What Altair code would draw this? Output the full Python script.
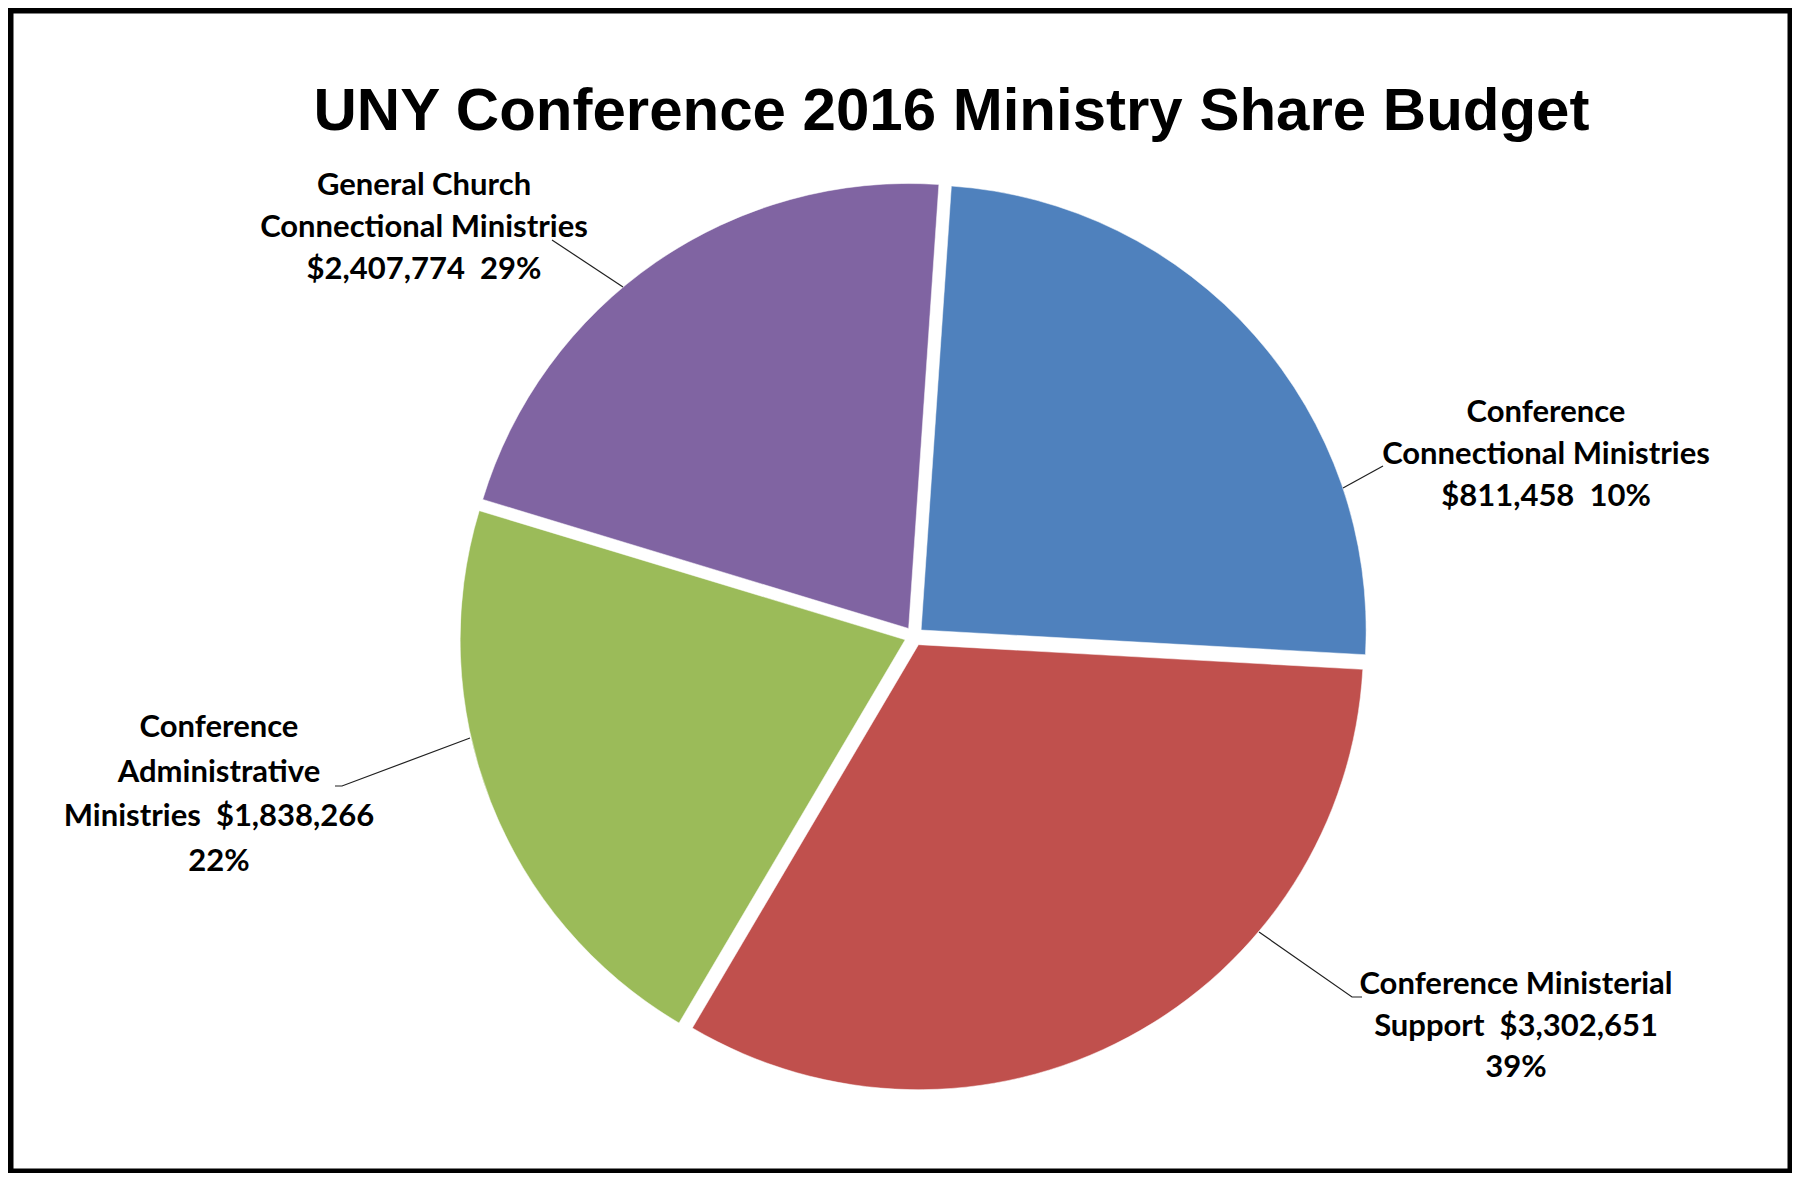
import math
import altair as alt
import pandas as pd

# ---------------- data ----------------
categories = [
    "Conference Connectional Ministries",
    "Conference Ministerial Support",
    "Conference Administrative Ministries",
    "General Church Connectional Ministries",
]
amounts = [811458, 3302651, 1838266, 2407774]
percent_labels = ["10%", "39%", "22%", "29%"]
# share of the circle each slice occupies as drawn in the picture (%)
drawn_share = [24.8, 32.6, 21.2, 21.4]
label_templates = [
    ["Conference", "Connectional Ministries", "{amt}\u00a0 {pct}"],
    ["Conference Ministerial", "Support\u00a0 {amt}", "{pct}"],
    ["Conference", "Administrative", "Ministries\u00a0 {amt}", "{pct}"],
    ["General Church", "Connectional Ministries", "{amt}\u00a0 {pct}"],
]
title_text = "UNY Conference 2016 Ministry Share Budget"

# ---------------- style / layout ----------------
colors = ["#4F81BD", "#C0504D", "#9BBB59", "#8064A2"]
W, H = 1774, 1155
CX, CY = 901.0, 623.3
R = 445
EXPLODE = 9.5
START = math.radians(3.9)
TOTAL = sum(drawn_share)
# centre of the first line of each label, and the line spacing of each label
label_anchor = [(1533, 400), (1503, 972), (206, 715), (411, 173)]
label_spacing = [42, 41.5, 44.5, 42]
leader_pts = [
    [(1330, 475), (1370, 453)],
    [(1246, 919), (1339, 984), (1349, 984)],
    [(457, 725), (329, 773), (322, 773)],
    [(610, 274), (539, 227)],
]
LABEL_FONT = "Lato"
LABEL_SIZE = 31

# ---------------- tables ----------------
pie_df = pd.DataFrame({"idx": range(len(categories)), "category": categories, "share": drawn_share})

lab_rows = []
for k, (tmpl, amt, pct) in enumerate(zip(label_templates, amounts, percent_labels)):
    ax, ay = label_anchor[k]
    for i, s in enumerate(tmpl):
        lab_rows.append({
            "category": categories[k],
            "text": s.format(amt=f"${amt:,}", pct=pct),
            "lx": ax,
            "ly": ay + i * label_spacing[k],
        })
lab_df = pd.DataFrame(lab_rows)

rows = []
for g, pts in enumerate(leader_pts):
    for s, (x, y) in enumerate(pts):
        rows.append({"group": g, "seq": s, "x": x, "y": y})
lead_df = pd.DataFrame(rows)

# ---------------- layers ----------------
pie = (
    alt.Chart(pie_df)
    .transform_window(cum="sum(share)", sort=[alt.SortField("idx", order="ascending")], frame=[None, 0])
    .transform_calculate(c0="datum.cum - datum.share")
    .transform_calculate(mid=f"{START} + 2*PI*(datum.c0 + datum.share/2)/{TOTAL}")
    .transform_calculate(
        px=f"{CX} + {EXPLODE}*sin(datum.mid)",
        py=f"{CY} - {EXPLODE}*cos(datum.mid)",
    )
    .mark_arc(radius=R, stroke="white", strokeWidth=0.5)
    .encode(
        x=alt.X("px:Q", scale=None),
        y=alt.Y("py:Q", scale=None),
        theta=alt.Theta(
            "c0:Q",
            stack=False,
            scale=alt.Scale(domain=[0, TOTAL], range=[START, START + 2 * math.pi], zero=False, nice=False),
        ),
        theta2=alt.Theta2("cum:Q"),
        color=alt.Color("category:N", scale=alt.Scale(domain=categories, range=colors), legend=None),
    )
)

leaders = (
    alt.Chart(lead_df)
    .mark_line(color="#202020", strokeWidth=1.2)
    .encode(
        x=alt.X("x:Q", scale=None),
        y=alt.Y("y:Q", scale=None),
        detail="group:N",
        order="seq:Q",
    )
)

labels = (
    alt.Chart(lab_df)
    .mark_text(
        font=LABEL_FONT,
        fontWeight="bold",
        fontSize=LABEL_SIZE,
        align="center",
        baseline="middle",
        color="black",
    )
    .encode(x=alt.X("lx:Q", scale=None), y=alt.Y("ly:Q", scale=None), text="text:N")
)

title = (
    alt.Chart(pd.DataFrame({"t": [title_text]}))
    .mark_text(
        font="Liberation Sans",
        fontWeight="bold",
        fontSize=60,
        align="center",
        baseline="alphabetic",
        color="black",
    )
    .encode(x=alt.value(938.5), y=alt.value(117), text="t:N")
)

chart = (
    alt.layer(pie, leaders, labels, title)
    .properties(
        width=W,
        height=H,
        background="black",
        padding=5,
        autosize=alt.AutoSizeParams(type="none"),
    )
    .configure_view(fill="white", stroke="transparent")
)

chart.save("out.html", embed_options={"renderer": "svg", "actions": False})
